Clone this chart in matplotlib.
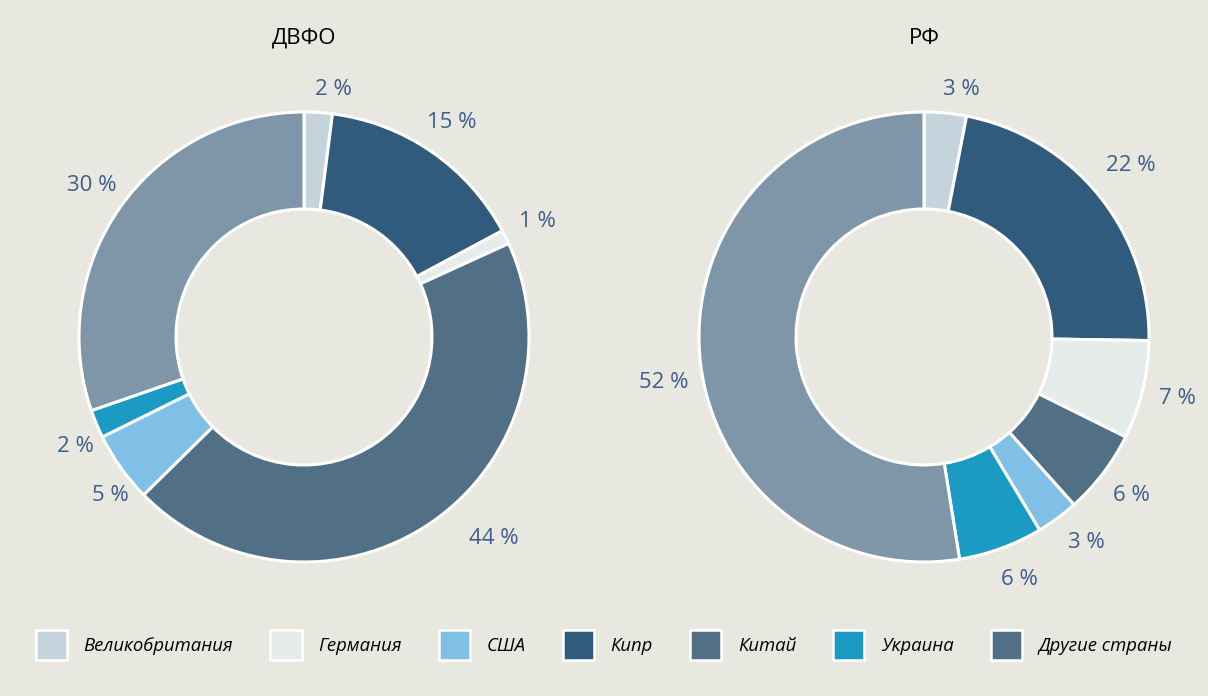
import matplotlib

matplotlib.use("Agg")
import matplotlib.pyplot as plt
import numpy as np
from matplotlib.patches import Patch

# данные
СТРАНЫ = ["Великобритания", "Кипр", "Германия", "Китай", "США", "Украина", "Другие страны"]
ДВФО = [2, 15, 1, 44, 5, 2, 30]
РФ = [3, 22, 7, 6, 3, 6, 52]
ЗАГОЛОВКИ = ["ДВФО", "РФ"]
ЛЕГЕНДА = ["Великобритания", "Германия", "США", "Кипр", "Китай", "Украина", "Другие страны"]

ЦВЕТА = {
    "Великобритания": "#c5d3dc",
    "Германия": "#e5ecea",
    "США": "#80c0e6",
    "Кипр": "#315b7d",
    "Китай": "#527085",
    "Украина": "#1b9ac4",
    "Другие страны": "#7f95a8",
}
ЦВЕТА_ЛЕГЕНДЫ = dict(ЦВЕТА, **{"Другие страны": "#527085"})
ФОН = "#e8e8e0"
ЦВЕТ_ПОДПИСЕЙ = "#3d5e8e"

# ручные сдвиги подписей (пиксели, x вправо, y вверх)
СДВИГИ = [
    {0: (13, -13), 3: (42, 13), 4: (19, -7), 5: (12, -9)},
    {0: (13, -12), 1: (4, 7), 4: (8, 5), 5: (6, 3), 6: (0, -25)},
]

plt.rcParams["font.family"] = ["Open Sans", "DejaVu Sans"]

W, H = 1208, 696
fig = plt.figure(figsize=(W / 100, H / 100), dpi=100)
fig.patch.set_facecolor(ФОН)
ax = fig.add_axes([0, 0, 1, 1])
ax.set_facecolor(ФОН)

R_OUT, R_IN, R_LBL = 225, 128, 261
центры = [(304, H - 337), (924, H - 337)]

for (cx, cy), значения, заголовок, сдвиги in zip(центры, [ДВФО, РФ], ЗАГОЛОВКИ, СДВИГИ):
    клинья, _ = ax.pie(
        значения,
        colors=[ЦВЕТА[с] for с in СТРАНЫ],
        startangle=90,
        counterclock=False,
        radius=R_OUT,
        center=(cx, cy),
        wedgeprops=dict(width=R_OUT - R_IN, edgecolor="white", linewidth=2.2),
    )
    for i, (клин, v) in enumerate(zip(клинья, значения)):
        угол = np.deg2rad((клин.theta1 + клин.theta2) / 2)
        dx, dy = сдвиги.get(i, (0, 0))
        ax.text(
            cx + R_LBL * np.cos(угол) + dx,
            cy + R_LBL * np.sin(угол) + dy,
            f"{v} %",
            ha="center",
            va="center",
            fontsize=16,
            color=ЦВЕТ_ПОДПИСЕЙ,
        )
    ax.text(cx, H - 38, заголовок, ha="center", va="center", fontsize=16, color="black")

ax.set_xlim(0, W)
ax.set_ylim(0, H)
ax.set_aspect("equal")
ax.axis("off")

ручки = [Patch(facecolor=ЦВЕТА_ЛЕГЕНДЫ[с], edgecolor="white", linewidth=1.8) for с in ЛЕГЕНДА]
fig.legend(
    ручки,
    ЛЕГЕНДА,
    loc="center",
    bbox_to_anchor=(0.5, 51 / H),
    ncol=7,
    frameon=False,
    prop=dict(style="italic", size=13.3),
    handlelength=1.7,
    handleheight=2.2,
    handletextpad=0.9,
    columnspacing=2.0,
)

fig.savefig("out.png", dpi=100, facecolor=ФОН)
